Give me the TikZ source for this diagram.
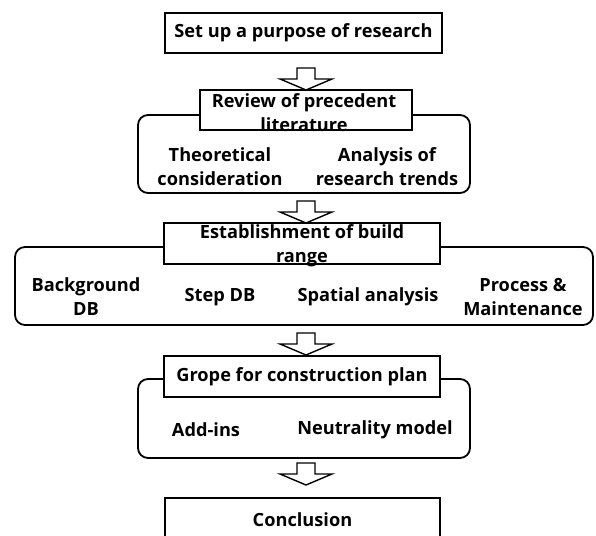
\documentclass[tikz,border=0pt]{standalone}
\usepackage{fontspec}
\setmainfont{Open Sans}
\begin{document}
\begin{tikzpicture}[x=1pt,y=-1pt,
  every node/.style={font=\fontsize{18.2}{24}\selectfont\bfseries, align=center, inner sep=0pt},
  titlebox/.style={draw, line width=1.8pt, fill=white},
  groupbox/.style={draw, line width=1.8pt, rounded corners=10pt},
  itemtext/.style={},
  pics/downarrow/.style={code={\draw[line width=1.4pt, fill=white, line join=miter]
    (-9,-22) -- (9,-22) -- (9,-11) -- (26,-11) -- (0,0) -- (-26,-11) -- (-9,-11) -- cycle;}}
]
\useasboundingbox (0,0) rectangle (596,535);

% stage 1
\node[titlebox, minimum width=277pt, minimum height=40pt] (purpose) at (303.5,33) {Set up a purpose of research};
\pic at (306,90) {downarrow};

% stage 2
\node[groupbox, minimum width=332pt, minimum height=78pt] (g2) at (304,154) {};
\node[titlebox, minimum width=212pt, minimum height=40pt] (review) at (306,110) {};
\node (reviewtext) at (304,112.5) {Review of precedent\\literature};
\node[itemtext] (theo) at (220,166.5) {Theoretical\\consideration};
\node[itemtext] (trend) at (387,166.5) {Analysis of\\research trends};
\pic at (306,223) {downarrow};

% stage 3
\node[groupbox, minimum width=578pt, minimum height=78pt] (g3) at (304,286) {};
\node[titlebox, minimum width=276pt, minimum height=41pt] (est) at (302,243.5) {};
\node (esttext) at (302,245.5) {Establishment of build\\range};
\node[itemtext] (bg) at (86,296.5) {Background\\DB};
\node[itemtext] (stepdb) at (220,297) {Step DB};
\node[itemtext] (spatial) at (368,297) {Spatial analysis};
\node[itemtext] (proc) at (523,296.5) {Process \&\\Maintenance};
\pic at (306,355) {downarrow};

% stage 4
\node[groupbox, minimum width=332pt, minimum height=79pt] (g4) at (304,418.5) {};
\node[titlebox, minimum width=276pt, minimum height=41pt] (grope) at (302,376.5) {Grope for construction plan};
\node[itemtext] (addins) at (206,430) {Add-ins};
\node[itemtext] (neutral) at (375,430) {Neutrality model};
\pic at (306,485) {downarrow};

% stage 5
\node[titlebox, minimum width=275pt, minimum height=44pt] (concl) at (302.5,520) {Conclusion};
\end{tikzpicture}
\end{document}
